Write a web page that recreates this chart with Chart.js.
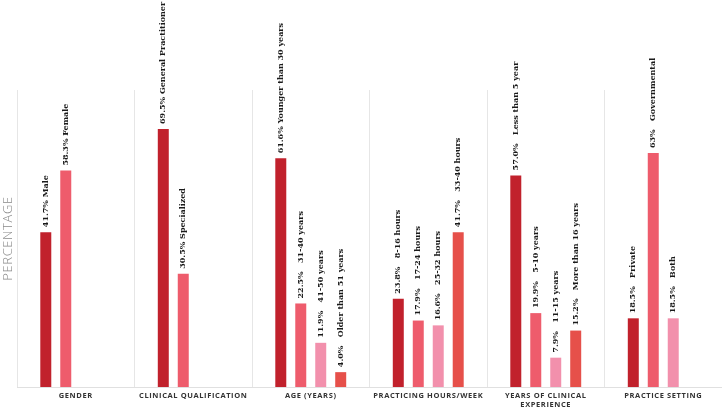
<!DOCTYPE html>
<html>
<head>
<meta charset="utf-8">
<script src="https://cdn.jsdelivr.net/npm/chart.js@4"></script>
<style>
  html, body { margin: 0; padding: 0; background: #fff; }
  #wrap { width: 722px; height: 408px; position: relative; }
</style>
</head>
<body>
<div id="wrap"><canvas id="myChart"></canvas></div>
<script>
    // categories along the x axis
    const categories = ['GENDER', 'CLINICAL QUALIFICATION', 'AGE (YEARS)',
        'PRACTICING HOURS/WEEK', ['YEARS OF CLINICAL', 'EXPERIENCE'], 'PRACTICE SETTING'];

    // one array per bar slot inside each group (null = no bar)
    const slot1 = [41.7, 69.5, 61.6, 23.8, 57.0, 18.5];
    const slot2 = [58.3, 30.5, 22.5, 17.9, 19.9, 63];
    const slot3 = [null, null, 11.9, 16.6, 7.9, 18.5];
    const slot4 = [null, null, 4.0, 41.7, 15.2, null];

    // text written above each bar
    const names1 = ['41.7% Male', '69.5% General Practitioner', '61.6% Younger than 30 years',
        '23.8%   8-16 hours', '57.0%   Less than 5 year', '18.5%   Private'];
    const names2 = ['58.3% Female', '30.5% Specialized', '22.5%   31-40 years',
        '17.9%   17-24 hours', '19.9%   5-10 years', '63%   Governmental'];
    const names3 = [null, null, '11.9%   41-50 years', '16.6%   25-32 hours', '7.9%   11-15 years', '18.5%   Both'];
    const names4 = [null, null, '4.0%   Older than 51 years', '41.7%   33-40 hours', '15.2%   More than 16 years', null];

    const colors = ['#c1212c', '#ee5c6c', '#f290ac', '#e6504a'];

    const allNames = [names1, names2, names3, names4];

    // labels above bars, rotated
    const barLabels = {
        id: 'barLabels',
        afterDatasetsDraw(chart) {
            const ctx = chart.ctx;
            ctx.save();
            ctx.fillStyle = '#1a1a1a';
            ctx.font = 'bold 8px "DejaVu Serif", serif';
            ctx.textAlign = 'left';
            ctx.textBaseline = 'middle';
            chart.data.datasets.forEach((ds, i) => {
                const meta = chart.getDatasetMeta(i);
                meta.data.forEach((bar, j) => {
                    const txt = allNames[i][j];
                    if (!txt || ds.data[j] == null) return;
                    ctx.save();
                    ctx.translate(bar.x, bar.y - 5);
                    ctx.rotate(-Math.PI / 2);
                    ctx.fillText(txt, 0, 0);
                    ctx.restore();
                });
            });
            ctx.restore();
        }
    };

    // letter spacing for the axis labels
    const spacing = {
        id: 'spacing',
        beforeDraw(chart) { chart.ctx.letterSpacing = '0.6px'; },
        beforeDatasetsDraw(chart) { chart.ctx.letterSpacing = '0px'; }
    };

    const data = {
        labels: categories,
        datasets: [slot1, slot2, slot3, slot4].map((d, i) => ({
            data: d,
            backgroundColor: colors[i],
            categoryPercentage: 0.68,
            barPercentage: 0.55
        }))
    };

    const config = {
        type: 'bar',
        data: data,
        options: {
            responsive: false,
            animation: false,
            layout: { padding: { top: 90, right: 0, bottom: 0, left: 0 } },
            plugins: { legend: { display: false }, tooltip: { enabled: false } },
            scales: {
                x: {
                    grid: { color: '#e6e6e6', drawTicks: false, offset: true },
                    border: { color: '#e0e0e0' },
                    ticks: {
                        color: '#333',
                        font: { family: '"Open Sans", sans-serif', size: 7.5, weight: 'bold', lineHeight: 1.1 },
                        padding: 5,
                        maxRotation: 0,
                        autoSkip: false
                    },
                    afterFit(s) { s.height = 21; }
                },
                y: {
                    min: 0,
                    max: 80,
                    grid: { display: false },
                    border: { display: false },
                    ticks: { display: false },
                    title: {
                        display: true,
                        text: 'PERCENTAGE',
                        color: '#8a8a8a',
                        font: { family: '"Open Sans", sans-serif', size: 13, weight: '300' },
                        padding: 0
                    },
                    afterFit(s) { s.width = 17; }
                }
            }
        },
        plugins: [spacing, barLabels]
    };

    const canvas = document.getElementById('myChart');
    canvas.width = 722;
    canvas.height = 408;
    const myChart = new Chart(canvas, config);
</script>
</body>
</html>
